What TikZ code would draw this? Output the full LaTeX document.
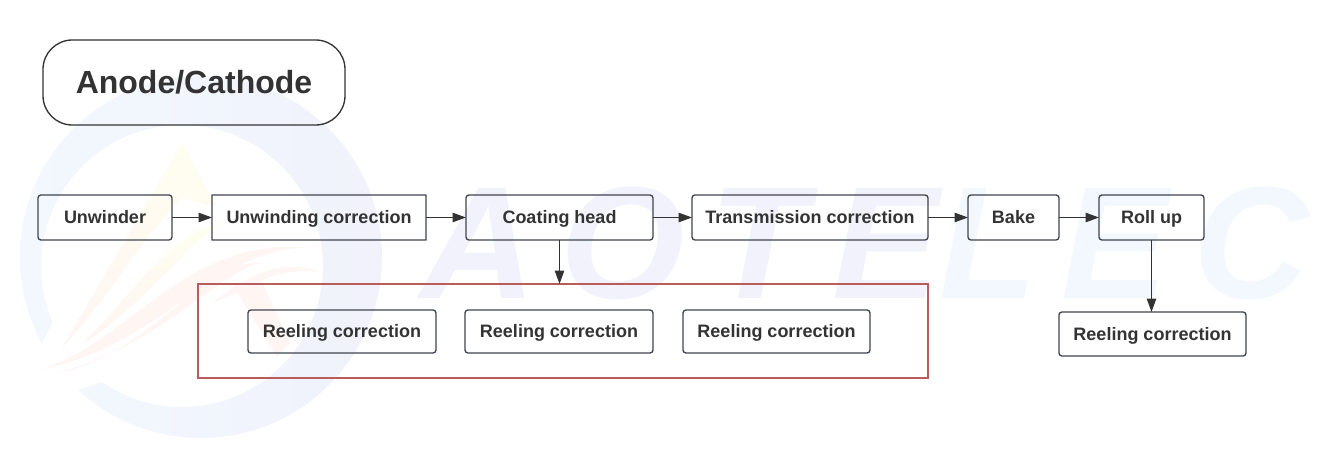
\documentclass[tikz,border=0pt]{standalone}
\usepackage{fontspec}
\setmainfont{Liberation Sans}
\usetikzlibrary{arrows.meta}
\definecolor{ink}{HTML}{333333}
\definecolor{edge}{HTML}{3F4550}
\definecolor{frame}{HTML}{B85C5C}
\definecolor{ringa}{HTML}{F2F8FE}
\definecolor{ringb}{HTML}{F1F2FB}
\definecolor{flamea}{HTML}{FFFEF0}
\definecolor{flameb}{HTML}{FFF5F3}
\tikzset{
  stage/.style={draw=edge,line width=1pt,rounded corners=2.2pt,inner sep=0pt,outer sep=0pt,text=ink,text height=11pt,text depth=2pt,font=\bfseries\fontsize{13.5}{15}\selectfont,anchor=north west},
  flow/.style={draw=ink,line width=1pt,-{Triangle[length=10pt,width=7pt]}},
  logotext/.style={font=\bfseries\itshape\fontsize{120}{120}\selectfont\addfontfeature{LetterSpace=15.5},inner sep=0pt,anchor=base west},
  flame/.style={top color=flamea,bottom color=flameb}
}
\begin{document}
\begin{tikzpicture}[x=0.75pt,y=-0.75pt]
  \useasboundingbox (0,0) rectangle (1335,464);
  \fill[white] (0,0) rectangle (1335,464);
  % logo behind the chart
  \shade[even odd rule,left color=ringa,right color=ringb] (201,257) circle (181) (182,266) circle (141);
  \fill[white] (53,322) -- (42,343) -- (10,350) -- (20,430) -- (78,390) -- (102,382) -- (80,345) -- cycle;
  \shade[flame] (182,143) -- (62,348) .. controls (115,290) and (140,240) .. (182,198) -- (217,207) -- cycle;
  \shade[flame] (80,345) .. controls (130,300) and (165,235) .. (222,222) .. controls (180,250) and (140,310) .. (80,345) -- cycle;
  \shade[top color=flameb,bottom color=flameb] (43,369) .. controls (130,340) and (190,235) .. (308,248) .. controls (220,245) and (160,345) .. (43,369) -- cycle;
  \shade[top color=flameb,bottom color=flameb] (57,373) .. controls (150,355) and (200,262) .. (262,262) .. controls (215,275) and (160,345) .. (57,373) -- cycle;
  \shade[top color=flameb,bottom color=flameb] (213,303) .. controls (245,275) and (285,258) .. (320,272) .. controls (290,268) and (262,278) .. (262,282) -- (290,343) -- (277,357) -- (237,292) -- cycle;
  \node[logotext] (logo) at (420,298) {\textcolor{ringb}{AOTE}\textcolor{ringa}{LEC}};
  % title
  \node[draw=ink,line width=1pt,outer sep=0pt,rounded corners=22pt,minimum width=226.5pt,minimum height=63.75pt,text=ink,font=\bfseries\fontsize{24}{28}\selectfont] (title) at (194,82.5) {Anode/Cathode};
  % top row
  \node[stage,minimum width=100.5pt,minimum height=33.75pt] (unwinder) at (38,195) {Unwinder};
  \node[stage,rounded corners=0.1pt,minimum width=160.5pt,minimum height=33.75pt] (unwcorr) at (212,195) {Unwinding correction};
  \node[stage,minimum width=140.25pt,minimum height=33.75pt] (coat) at (466,195) {Coating head};
  \node[stage,minimum width=177pt,minimum height=33.75pt] (trans) at (692,195) {Transmission correction};
  \node[stage,minimum width=68.25pt,minimum height=33.75pt] (bake) at (968,195) {Bake};
  \node[stage,minimum width=78.75pt,minimum height=33.75pt] (roll) at (1099,195) {Roll up};
  % red group and the reeling boxes
  \node[draw=frame,line width=1.1pt,outer sep=0pt,minimum width=547.5pt,minimum height=70.5pt,inner sep=0pt,anchor=north west] (group) at (198,284) {};
  \node[stage,minimum width=141pt,minimum height=32.25pt] (reela) at (248,310) {Reeling correction};
  \node[stage,minimum width=141pt,minimum height=32.25pt] (reelb) at (465,310) {Reeling correction};
  \node[stage,minimum width=140.25pt,minimum height=32.25pt] (reelc) at (683,310) {Reeling correction};
  \node[stage,minimum width=140.25pt,minimum height=33pt] (reeld) at (1059,312) {Reeling correction};
  % connectors
  \draw[flow] (unwinder) -- (unwcorr);
  \draw[flow] (unwcorr) -- (coat);
  \draw[flow] (coat) -- (trans);
  \draw[flow] (trans) -- (bake);
  \draw[flow] (bake) -- (roll);
  \draw[flow] (coat.south) -- (coat.south |- group.north);
  \draw[flow] (roll.south) -- (roll.south |- reeld.north);
\end{tikzpicture}
\end{document}
